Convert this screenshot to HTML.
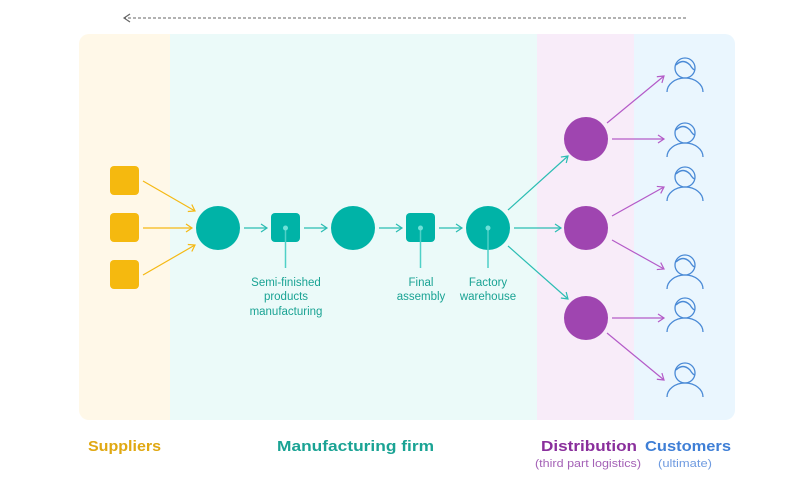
<!DOCTYPE html>
<html><head><meta charset="utf-8"><style>body{margin:0;background:#fff}svg{display:block}</style></head>
<body>
<svg width="786" height="488" viewBox="0 0 786 488" xmlns="http://www.w3.org/2000/svg" font-family="Liberation Sans, sans-serif">
<defs>
<marker id="ay" markerWidth="10" markerHeight="10" refX="7" refY="5" orient="auto" markerUnits="userSpaceOnUse"><path d="M1,1 L7,5 L1,9" fill="none" stroke="#f5b914" stroke-width="1.2"/></marker>
<marker id="at" markerWidth="10" markerHeight="10" refX="7" refY="5" orient="auto" markerUnits="userSpaceOnUse"><path d="M1,1 L7,5 L1,9" fill="none" stroke="#2bbdb3" stroke-width="1.2"/></marker>
<marker id="ap" markerWidth="10" markerHeight="10" refX="7" refY="5" orient="auto" markerUnits="userSpaceOnUse"><path d="M1,1 L7,5 L1,9" fill="none" stroke="#b45bc8" stroke-width="1.2"/></marker>
<marker id="ag" markerWidth="10" markerHeight="10" refX="7" refY="5" orient="auto" markerUnits="userSpaceOnUse"><path d="M1,1 L7,5 L1,9" fill="none" stroke="#666" stroke-width="1.2"/></marker>
<clipPath id="cp"><rect x="79" y="34" width="656" height="386" rx="10"/></clipPath>
</defs>
<line x1="686" y1="18" x2="124" y2="18" stroke="#666" stroke-width="1" stroke-dasharray="3,2" marker-end="url(#ag)"/>
<g clip-path="url(#cp)">
<rect x="79" y="34" width="91" height="386" fill="#fff8e8"/>
<rect x="170" y="34" width="367" height="386" fill="#ebfaf9"/>
<rect x="537" y="34" width="97" height="386" fill="#f8ecf9"/>
<rect x="634" y="34" width="101" height="386" fill="#eaf6fe"/>
</g>
<g fill="#f5b90f">
<rect x="110" y="166" width="29" height="29" rx="4"/><rect x="110" y="213" width="29" height="29" rx="4"/><rect x="110" y="260" width="29" height="29" rx="4"/>
</g>
<g stroke="#f5b914" stroke-width="1.2" marker-end="url(#ay)">
<line x1="143" y1="181" x2="195" y2="211"/><line x1="143" y1="228" x2="192" y2="228"/><line x1="143" y1="275" x2="195" y2="245"/>
</g>
<g fill="#00b3a7">
<circle cx="218" cy="228" r="22"/><rect x="271" y="213" width="29" height="29" rx="4"/>
<circle cx="353" cy="228" r="22"/><rect x="406" y="213" width="29" height="29" rx="4"/>
<circle cx="488" cy="228" r="22"/>
</g>
<g stroke="#2bbdb3" stroke-width="1.2" marker-end="url(#at)">
<line x1="244" y1="228" x2="267" y2="228"/><line x1="304" y1="228" x2="327" y2="228"/>
<line x1="379" y1="228" x2="402" y2="228"/><line x1="439" y1="228" x2="462" y2="228"/>
<line x1="508" y1="210" x2="568" y2="156"/><line x1="514" y1="228" x2="561" y2="228"/><line x1="508" y1="246" x2="568" y2="299"/>
</g>
<g stroke="#4fd0c7" stroke-width="1.5"><line x1="285.5" y1="228" x2="285.5" y2="268"/><line x1="420.5" y1="228" x2="420.5" y2="268"/><line x1="488" y1="228" x2="488" y2="268"/></g>
<g fill="#6fe0d8"><circle cx="285.5" cy="228" r="2.5"/><circle cx="420.5" cy="228" r="2.5"/><circle cx="488" cy="228" r="2.5"/></g>
<g fill="#1aa394" font-size="11.5" text-anchor="middle">
<text x="286" y="286">Semi-finished</text><text x="286" y="300">products</text><text x="286" y="315">manufacturing</text>
<text x="421" y="286">Final</text><text x="421" y="300">assembly</text>
<text x="488" y="286">Factory</text><text x="488" y="300">warehouse</text>
</g>
<g fill="#9f45b0"><circle cx="586" cy="139" r="22"/><circle cx="586" cy="228" r="22"/><circle cx="586" cy="318" r="22"/></g>
<g stroke="#b45bc8" stroke-width="1.2" marker-end="url(#ap)">
<line x1="607" y1="123" x2="664" y2="76"/><line x1="612" y1="139" x2="664" y2="139"/>
<line x1="612" y1="216" x2="664" y2="187"/><line x1="612" y1="240" x2="664" y2="269"/>
<line x1="612" y1="318" x2="664" y2="318"/><line x1="607" y1="333" x2="664" y2="380"/>
</g>
<g fill="none" stroke="#4a8ad6" stroke-width="1.3">
<g transform="translate(685,68)"><circle r="10"/><path d="M-9,-3 Q-2,-10 5,-3 Q8,2 10,2"/><path d="M-18,24 A18,14 0 0 1 18,24"/></g>
<g transform="translate(685,133)"><circle r="10"/><path d="M-9,-3 Q-2,-10 5,-3 Q8,2 10,2"/><path d="M-18,24 A18,14 0 0 1 18,24"/></g>
<g transform="translate(685,177)"><circle r="10"/><path d="M-9,-3 Q-2,-10 5,-3 Q8,2 10,2"/><path d="M-18,24 A18,14 0 0 1 18,24"/></g>
<g transform="translate(685,265)"><circle r="10"/><path d="M-9,-3 Q-2,-10 5,-3 Q8,2 10,2"/><path d="M-18,24 A18,14 0 0 1 18,24"/></g>
<g transform="translate(685,308)"><circle r="10"/><path d="M-9,-3 Q-2,-10 5,-3 Q8,2 10,2"/><path d="M-18,24 A18,14 0 0 1 18,24"/></g>
<g transform="translate(685,373)"><circle r="10"/><path d="M-9,-3 Q-2,-10 5,-3 Q8,2 10,2"/><path d="M-18,24 A18,14 0 0 1 18,24"/></g>
</g>
<g font-size="15" font-weight="bold">
<text x="88" y="451" fill="#e0a812" textLength="73" lengthAdjust="spacingAndGlyphs">Suppliers</text>
<text x="277" y="451" fill="#1aa394" textLength="157" lengthAdjust="spacingAndGlyphs">Manufacturing firm</text>
<text x="541" y="451" fill="#8a2f9c" textLength="96" lengthAdjust="spacingAndGlyphs">Distribution</text>
<text x="645" y="451" fill="#3f7fd6" textLength="86" lengthAdjust="spacingAndGlyphs">Customers</text>
</g>
<g font-size="11">
<text x="535" y="467" fill="#a462b6" textLength="106" lengthAdjust="spacingAndGlyphs">(third part logistics)</text>
<text x="658" y="467" fill="#6f9be0" textLength="54" lengthAdjust="spacingAndGlyphs">(ultimate)</text>
</g>
</svg>
</body></html>
